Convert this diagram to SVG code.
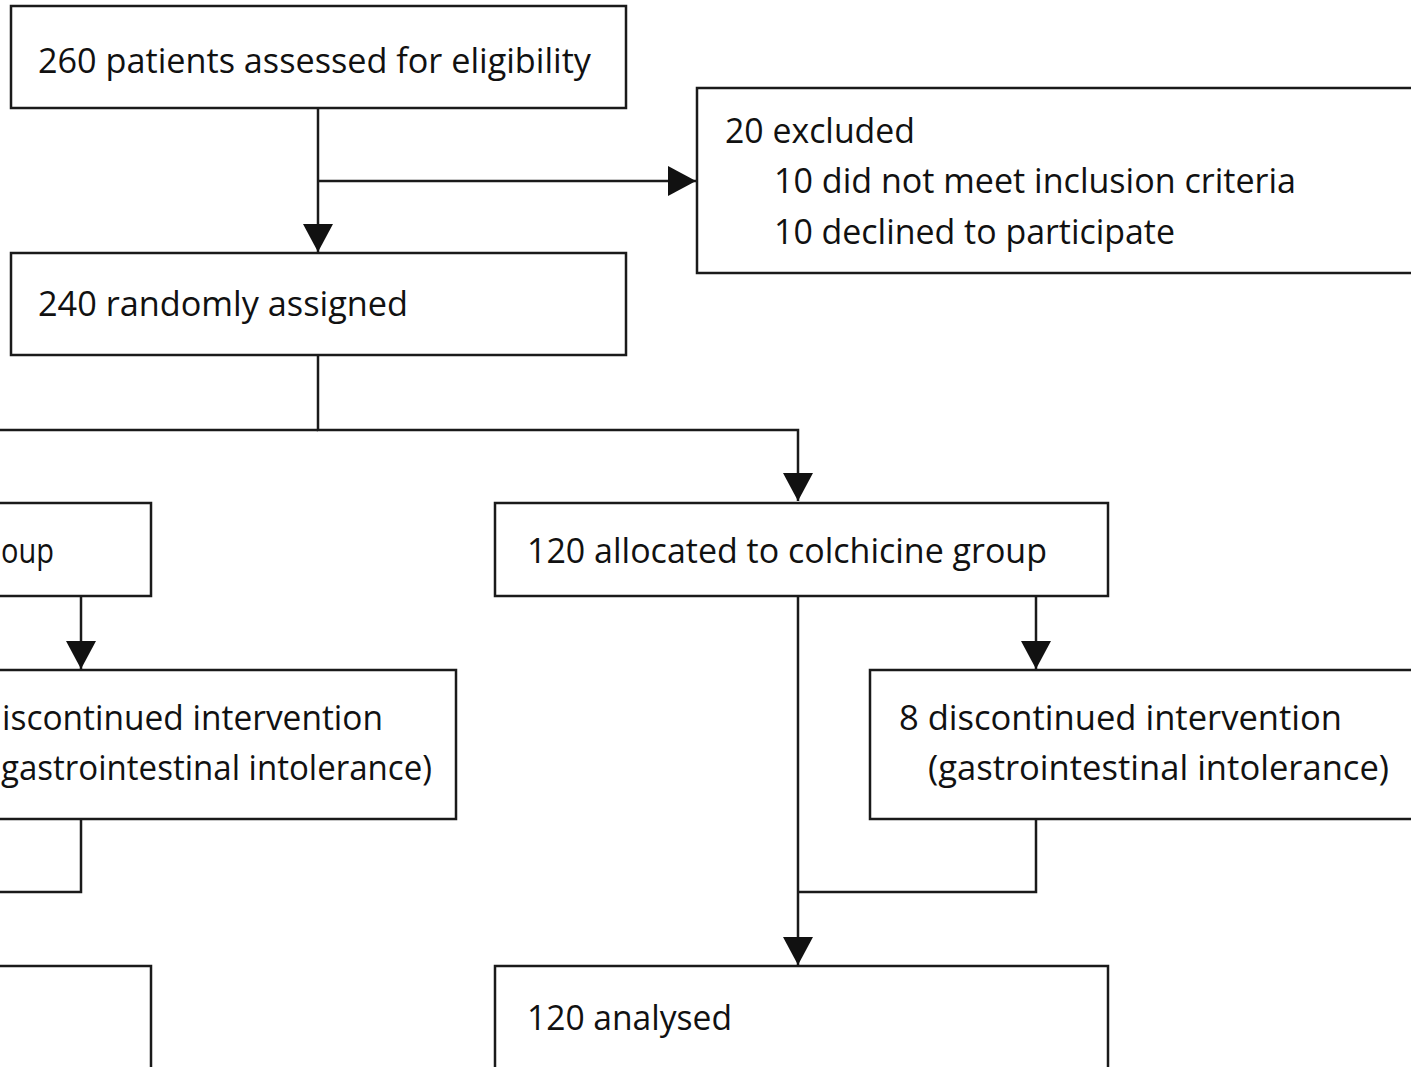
<svg xmlns="http://www.w3.org/2000/svg" width="1411" height="1067" viewBox="0 0 1411 1067">
<style>
.box{fill:#fff;stroke:#1a1a1a;stroke-width:2.5}
.ln{fill:none;stroke:#1a1a1a;stroke-width:2.5}
text{font-family:"Open Sans","Noto Sans","Liberation Sans",sans-serif;font-size:35px;fill:#111}
</style>
<defs>
<marker id="ah" markerWidth="28" markerHeight="30" refX="28" refY="15" orient="auto" markerUnits="userSpaceOnUse">
<path d="M0,0 L28,15 L0,30 Z" fill="#111"/>
</marker>
</defs>
<rect width="1411" height="1067" fill="#fff"/>
<g id="connectors">
<path class="ln" d="M318,108 V252" marker-end="url(#ah)"/>
<path class="ln" d="M318,181 H696" marker-end="url(#ah)"/>
<path class="ln" d="M318,355 V430 H798 V501" marker-end="url(#ah)"/>
<path class="ln" d="M0,430 H318"/>
<path class="ln" d="M81,596 V669" marker-end="url(#ah)"/>
<path class="ln" d="M81,819 V892 H0"/>
<path class="ln" d="M1036,596 V669" marker-end="url(#ah)"/>
<path class="ln" d="M1036,819 V892 H798"/>
<path class="ln" d="M798,596 V965" marker-end="url(#ah)"/>
</g>
<g id="n1"><rect class="box" x="11" y="6" width="615" height="102"/>
<text x="38" y="73" textLength="553" lengthAdjust="spacingAndGlyphs">260 patients assessed for eligibility</text></g>
<g id="n2"><rect class="box" x="697" y="88" width="720" height="185"/>
<text x="725" y="143" textLength="190" lengthAdjust="spacingAndGlyphs">20 excluded</text>
<text x="774" y="193" textLength="522" lengthAdjust="spacingAndGlyphs">10 did not meet inclusion criteria</text>
<text x="774" y="244" textLength="401" lengthAdjust="spacingAndGlyphs">10 declined to participate</text></g>
<g id="n3"><rect class="box" x="11" y="253" width="615" height="102"/>
<text x="38" y="316" textLength="370" lengthAdjust="spacingAndGlyphs">240 randomly assigned</text></g>
<g id="n4"><rect class="box" x="-20" y="503" width="171" height="93"/>
<text x="1" y="563" textLength="53" lengthAdjust="spacingAndGlyphs">oup</text></g>
<g id="n5"><rect class="box" x="495" y="503" width="613" height="93"/>
<text x="527" y="563" textLength="520" lengthAdjust="spacingAndGlyphs">120 allocated to colchicine group</text></g>
<g id="n6"><rect class="box" x="-20" y="670" width="476" height="149"/>
<text x="2" y="730" textLength="381" lengthAdjust="spacingAndGlyphs">iscontinued intervention</text>
<text x="1" y="780" textLength="431" lengthAdjust="spacingAndGlyphs">gastrointestinal intolerance)</text></g>
<g id="n7"><rect class="box" x="870" y="670" width="560" height="149"/>
<text x="899" y="730" textLength="443" lengthAdjust="spacingAndGlyphs">8 discontinued intervention</text>
<text x="928" y="780" textLength="461" lengthAdjust="spacingAndGlyphs">(gastrointestinal intolerance)</text></g>
<g id="n8"><rect class="box" x="-20" y="966" width="171" height="120"/></g>
<g id="n9"><rect class="box" x="495" y="966" width="613" height="120"/>
<text x="527" y="1030" textLength="205" lengthAdjust="spacingAndGlyphs">120 analysed</text></g>
</svg>
